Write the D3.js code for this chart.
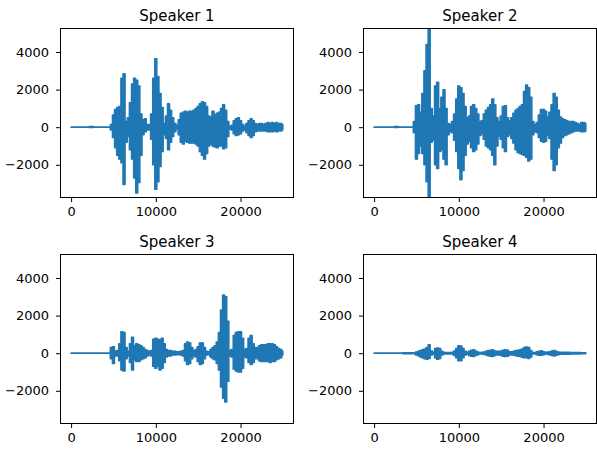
<!DOCTYPE html>
<html>
<head>
<meta charset="utf-8">
<script src="https://cdn.jsdelivr.net/npm/d3@7"></script>
<style>
  body { margin: 0; background: #fff; }
  svg { display: block; }
</style>
</head>
<body>
<svg id="chart" width="597" height="450"></svg>
<script>
// waveform envelopes, one max/min pair every 250 samples
const binSize = 250;
const speakers = ["Speaker 1", "Speaker 2", "Speaker 3", "Speaker 4"];
const xTicks = [0, 10000, 20000];
const yTicks = [-2000, 0, 2000, 4000];

const s1Max = [10,10,10,10,10,10,10,10,10,35,
  35,10,10,10,10,10,10,10,10,150,
  650,950,1050,1100,2600,2850,300,500,1300,2300,
  2600,2500,2200,700,400,450,150,150,700,2600,
  3650,2700,1800,1050,200,600,1250,900,500,200,
  100,400,750,800,850,800,850,850,900,1000,
  1100,1250,1350,1300,1100,600,550,850,650,750,
  800,1000,1200,900,300,50,100,350,450,500,
  350,150,50,200,350,450,350,200,150,200,
  200,150,200,250,200,250,200,250,200,200,
  150];
const s1Min = [-10,-10,-10,-10,-10,-10,-10,-10,-10,-20,
  -20,-10,-10,-10,-10,-10,-10,-10,-10,-150,
  -550,-1100,-1500,-1700,-1900,-3050,-800,-500,-1200,-1700,
  -2700,-3500,-2950,-1500,-400,-250,-150,-150,-650,-2000,
  -3300,-2900,-2100,-1300,-400,-600,-1200,-800,-500,-250,
  -100,-400,-800,-900,-750,-800,-850,-850,-850,-900,
  -1000,-1300,-1500,-1700,-1400,-1000,-900,-1000,-1050,-1100,
  -1000,-1000,-1150,-1100,-500,-100,-150,-350,-450,-400,
  -350,-200,-150,-300,-450,-550,-450,-250,-200,-200,
  -200,-200,-200,-250,-250,-250,-200,-250,-200,-200,
  -150];

const s2Max = [10,10,10,10,10,10,10,10,10,10,
  35,35,10,10,10,10,10,10,10,300,
  1150,1200,800,1800,3000,4400,5300,1000,600,2200,
  2400,1000,1600,2000,1000,200,150,300,700,1500,
  2200,2100,1800,1100,500,600,1100,1200,1000,700,
  300,350,700,900,1050,1200,1500,1200,500,300,
  600,1100,1150,500,350,500,750,900,1000,1100,
  1200,1900,2250,2100,1600,300,150,250,650,950,
  950,850,550,800,1200,1800,1600,900,550,450,
  400,350,300,300,300,250,200,150,250,250,
  200];
const s2Min = [-10,-10,-10,-10,-10,-10,-10,-10,-10,-10,
  -20,-20,-10,-10,-10,-10,-10,-10,-10,-300,
  -1700,-1400,-1000,-1400,-2000,-2900,-3800,-800,-700,-2000,
  -2200,-1300,-1200,-1700,-2000,-400,-250,-300,-700,-1300,
  -2200,-2800,-2300,-1500,-900,-750,-1100,-1300,-1200,-900,
  -450,-350,-650,-1000,-1100,-1200,-1500,-2000,-1000,-500,
  -650,-1100,-1300,-500,-400,-600,-850,-1200,-1350,-1400,
  -1450,-1500,-1600,-1800,-1700,-400,-250,-300,-550,-750,
  -800,-750,-450,-600,-1700,-2300,-2000,-1100,-850,-550,
  -450,-400,-350,-300,-250,-200,-200,-200,-250,-250,
  -200];

const s3Max = [10,10,10,10,10,10,10,10,10,10,
  10,10,10,10,10,10,10,10,10,300,
  350,100,150,500,1150,1100,300,100,500,850,
  400,500,450,400,300,200,150,100,150,750,
  800,750,700,800,500,200,150,150,100,100,
  80,80,100,150,500,600,550,300,150,200,
  350,550,550,300,100,80,200,300,400,600,
  1100,2300,3100,3000,1700,150,200,950,1100,1150,
  1150,800,200,250,800,950,500,300,300,400,
  450,450,450,500,500,500,450,350,250,200,
  100];
const s3Min = [-10,-10,-10,-10,-10,-10,-10,-10,-10,-10,
  -10,-10,-10,-10,-10,-10,-10,-10,-10,-300,
  -550,-150,-150,-400,-900,-950,-300,-150,-500,-900,
  -350,-450,-450,-350,-300,-250,-150,-100,-150,-700,
  -800,-700,-900,-800,-500,-200,-150,-150,-100,-100,
  -80,-80,-100,-150,-400,-600,-550,-300,-150,-200,
  -450,-600,-550,-300,-100,-80,-200,-300,-350,-550,
  -900,-1800,-2400,-2600,-1500,-150,-200,-850,-950,-1000,
  -1000,-800,-200,-250,-500,-600,-500,-300,-300,-400,
  -450,-450,-450,-450,-500,-450,-450,-350,-300,-250,
  -100];

const s4Max = [10,10,10,10,10,10,10,10,10,10,
  10,10,10,10,30,30,30,30,30,30,
  60,100,150,180,220,300,450,120,50,250,
  280,250,100,50,40,40,40,50,120,250,
  400,380,250,100,50,100,160,180,120,60,
  40,50,70,100,140,160,180,120,100,100,
  120,160,180,160,80,80,100,140,160,180,
  220,300,330,300,150,40,40,80,110,130,
  80,50,60,80,120,150,110,60,50,50,
  50,50,50,40,40,40,40,40,30,30,
  30];
const s4Min = [-10,-10,-10,-10,-10,-10,-10,-10,-10,-10,
  -10,-10,-10,-10,-30,-30,-30,-30,-30,-30,
  -100,-140,-200,-250,-300,-320,-280,-100,-50,-250,
  -330,-280,-100,-50,-40,-40,-40,-50,-120,-250,
  -400,-400,-250,-100,-50,-120,-160,-180,-120,-80,
  -40,-50,-70,-100,-140,-160,-180,-120,-100,-100,
  -120,-160,-180,-170,-100,-100,-100,-140,-160,-180,
  -220,-250,-250,-280,-200,-40,-40,-90,-110,-110,
  -80,-50,-60,-90,-120,-150,-110,-80,-60,-60,
  -60,-60,-60,-40,-40,-40,-40,-40,-30,-30,
  -30];

const panels = [
  {title: speakers[0], max: s1Max, min: s1Min},
  {title: speakers[1], max: s2Max, min: s2Min},
  {title: speakers[2], max: s3Max, min: s3Min},
  {title: speakers[3], max: s4Max, min: s4Min},
];

const color = "#1f77b4";
const pw = 233, ph = 169;
const lefts = [60.5, 363.5];
const tops = [28.5, 254.5];

const x = d3.scaleLinear().domain([-1250, 26250]).range([0, pw]);
const y = d3.scaleLinear().domain([-3740, 5250]).range([ph, 0]);

const svg = d3.select("#chart");
const defs = svg.append("defs");

panels.forEach((p, i) => {
  const left = lefts[i % 2], top = tops[Math.floor(i / 2)];
  const g = svg.append("g").attr("transform", `translate(${left},${top})`);

  defs.append("clipPath").attr("id", `clip${i}`)
    .append("rect").attr("width", pw).attr("height", ph);

  const area = d3.area()
    .curve(d3.curveStep)
    .x((d, j) => x(j * binSize))
    .y0((d, j) => y(p.min[j]))
    .y1(d => y(d));

  g.append("path")
    .datum(p.max)
    .attr("clip-path", `url(#clip${i})`)
    .attr("d", area)
    .attr("fill", color)
    .attr("stroke", color)
    .attr("stroke-width", 1.4)
    .attr("stroke-linejoin", "round");

  // frame
  g.append("rect")
    .attr("width", pw).attr("height", ph)
    .attr("fill", "none").attr("stroke", "#000").attr("stroke-width", 1);

  const xAxis = g.append("g")
    .attr("transform", `translate(0,${ph})`)
    .call(d3.axisBottom(x).tickValues(xTicks).tickSize(4.5).tickPadding(5).tickFormat(d3.format("d")));
  const yAxis = g.append("g")
    .call(d3.axisLeft(y).tickValues(yTicks).tickSize(4.5).tickPadding(7).tickFormat(d3.format("d")));

  [xAxis, yAxis].forEach(a => {
    a.select(".domain").remove();
    a.selectAll("line").attr("stroke", "#000");
    a.selectAll("text")
      .attr("fill", "#000")
      .style("font-family", "'DejaVu Sans', sans-serif")
      .style("font-size", "13px");
  });

  g.append("text")
    .attr("x", pw / 2)
    .attr("y", -7.5)
    .attr("text-anchor", "middle")
    .style("font-family", "'DejaVu Sans', sans-serif")
    .style("font-size", "15px")
    .attr("fill", "#000")
    .text(p.title);
});
</script>
</body>
</html>
